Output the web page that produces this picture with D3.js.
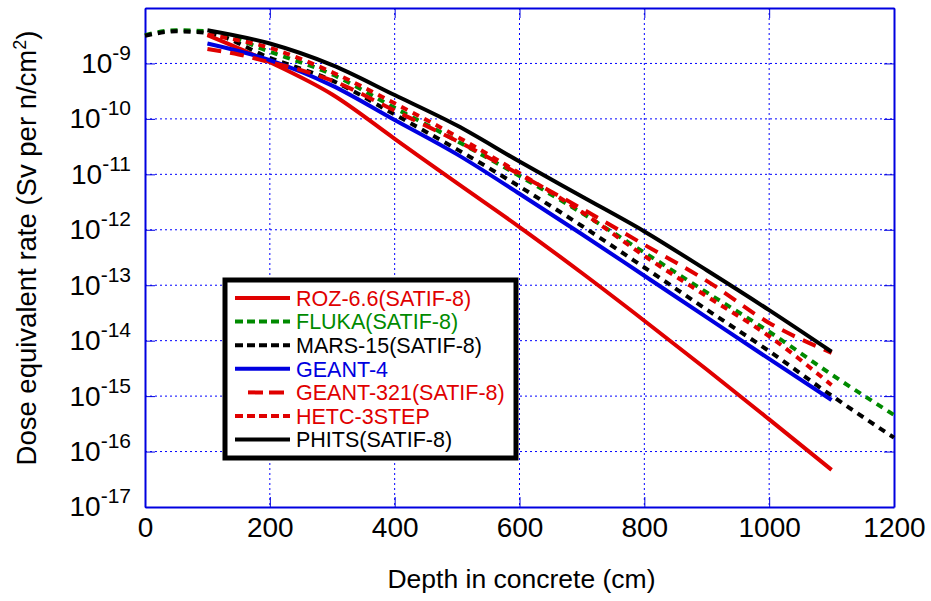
<!DOCTYPE html>
<html>
<head>
<meta charset="utf-8">
<script src="https://cdn.jsdelivr.net/npm/d3@7"></script>
<style>
  html, body { margin: 0; padding: 0; background: #fff; }
  svg { display: block; font-family: "Liberation Sans", Arial, sans-serif; }
</style>
</head>
<body>
<svg id="chart" width="931" height="601"></svg>
<script>
// Depth grids (cm)
const depthFull = [0, 50, 100, 200, 300, 400, 500, 600, 700, 800, 900, 1000, 1100, 1200];
const depthStd = [100, 200, 300, 400, 500, 600, 700, 800, 900, 1000, 1100];
const depthGeant321 = [100, 150, 200, 250, 300, 400, 500, 600, 700, 800, 900, 1000, 1100];

// Dose equivalent rate (Sv per n/cm^2) for each code
const doseROZ = [3.24e-9, 1.05e-9, 2.75e-10, 4.37e-11, 6.92e-12, 1.12e-12, 1.66e-13, 2.29e-14, 3.02e-15, 3.80e-16, 4.68e-17];
const doseFLUKA = [3.24e-9, 3.98e-9, 3.80e-9, 1.62e-9, 6.31e-10, 1.58e-10, 3.98e-11, 9.33e-12, 2.00e-12, 3.89e-13, 7.41e-14, 1.45e-14, 2.45e-15, 4.57e-16];
const doseMARS = [3.16e-9, 3.80e-9, 3.55e-9, 1.26e-9, 4.90e-10, 1.20e-10, 2.82e-11, 6.03e-12, 1.17e-12, 2.09e-13, 3.63e-14, 6.46e-15, 1.02e-15, 1.78e-16];
const doseGEANT4 = [2.29e-9, 1.15e-9, 3.98e-10, 9.55e-11, 2.29e-11, 4.47e-12, 8.32e-13, 1.48e-13, 2.63e-14, 4.68e-15, 8.51e-16];
const doseGEANT321 = [1.82e-9, 1.45e-9, 1.05e-9, 7.59e-10, 4.90e-10, 1.41e-10, 3.98e-11, 1.00e-11, 2.40e-12, 5.37e-13, 1.20e-13, 2.09e-14, 6.03e-15];
const doseHETC = [3.31e-9, 1.91e-9, 6.92e-10, 1.91e-10, 4.79e-11, 1.05e-11, 2.09e-12, 3.39e-13, 6.31e-14, 1.20e-14, 1.58e-15];
const dosePHITS = [3.98e-9, 2.29e-9, 9.33e-10, 2.69e-10, 7.59e-11, 1.70e-11, 3.98e-12, 9.33e-13, 1.86e-13, 3.55e-14, 6.31e-15];

const seriesNames = ["ROZ-6.6(SATIF-8)", "FLUKA(SATIF-8)", "MARS-15(SATIF-8)", "GEANT-4", "GEANT-321(SATIF-8)", "HETC-3STEP", "PHITS(SATIF-8)"];

// Axis ticks
const xTicks = [0, 200, 400, 600, 800, 1000, 1200];
const yExponents = [-17, -16, -15, -14, -13, -12, -11, -10, -9];

// Line styling per series
const RED = "#e00000", GREEN = "#008a00", BLUE = "#0000e0", BLACK = "#000000";
const series = [
  { name: seriesNames[0], x: depthStd, v: doseROZ, color: RED, dash: null, text: RED },
  { name: seriesNames[1], x: depthFull, v: doseFLUKA, color: GREEN, dash: "7,6", text: GREEN },
  { name: seriesNames[2], x: depthFull, v: doseMARS, color: BLACK, dash: "7,6", text: BLACK },
  { name: seriesNames[3], x: depthStd, v: doseGEANT4, color: BLUE, dash: null, text: BLUE },
  { name: seriesNames[4], x: depthGeant321, v: doseGEANT321, color: RED, dash: "14,9", text: RED },
  { name: seriesNames[5], x: depthStd, v: doseHETC, color: RED, dash: "7,6", text: RED },
  { name: seriesNames[6], x: depthStd, v: dosePHITS, color: BLACK, dash: null, text: BLACK }
];

const L = 145, R = 894, T = 8, B = 507;
const x = d3.scaleLinear().domain([0, 1200]).range([L, R]);
const y = d3.scaleLog().domain([1e-17, 1e-8]).range([B, T]);

const svg = d3.select("#chart");
const gridColor = "#0000ff";

// Dotted grid
const grid = svg.append("g");
grid.selectAll("line.vx").data(xTicks.slice(1, -1)).join("line")
  .attr("x1", d => x(d)).attr("x2", d => x(d)).attr("y1", T).attr("y2", B)
  .attr("stroke", gridColor).attr("stroke-width", 1).attr("stroke-dasharray", "2,3");
grid.selectAll("line.hy").data(yExponents.slice(1)).join("line")
  .attr("x1", L).attr("x2", R).attr("y1", d => y(Math.pow(10, d))).attr("y2", d => y(Math.pow(10, d)))
  .attr("stroke", gridColor).attr("stroke-width", 1).attr("stroke-dasharray", "2,3");

// Axes with inward ticks
const tickVals = yExponents.concat([-8]).map(e => Math.pow(10, e));
const xAxis = svg.append("g").attr("transform", `translate(0,${B})`)
  .call(d3.axisBottom(x).tickValues(xTicks).tickSizeInner(-10).tickSizeOuter(0).tickPadding(10).tickFormat(d3.format("d")));
const xTop = svg.append("g").attr("transform", `translate(0,${T})`)
  .call(d3.axisTop(x).tickValues(xTicks).tickSizeInner(-10).tickSizeOuter(0).tickFormat(""));
const yAxis = svg.append("g").attr("transform", `translate(${L},0)`)
  .call(d3.axisLeft(y).tickValues(yExponents.map(e => Math.pow(10, e))).tickSizeInner(-10).tickSizeOuter(0).tickPadding(14).tickFormat(() => ""));
const yRight = svg.append("g").attr("transform", `translate(${R},0)`)
  .call(d3.axisRight(y).tickValues(tickVals).tickSizeInner(-10).tickSizeOuter(0).tickFormat(""));

[xAxis, xTop, yAxis, yRight].forEach(g => {
  g.select(".domain").attr("stroke", BLUE).attr("stroke-width", 2);
  g.selectAll(".tick line").attr("stroke", BLUE).attr("stroke-width", 1);
});

xAxis.selectAll(".tick text").attr("font-size", 28).attr("fill", "#000")
  .attr("font-family", "Liberation Sans, Arial, sans-serif");

// Power-of-ten labels with superscript exponents
yAxis.selectAll(".tick text").each(function(d) {
  const t = d3.select(this).attr("font-size", 28).attr("fill", "#000")
    .attr("font-family", "Liberation Sans, Arial, sans-serif");
  t.text(null);
  t.append("tspan").text("10");
  t.append("tspan").attr("dy", -13).attr("font-size", 21).text(String(Math.round(Math.log10(d))));
});

// Curves
const line = d3.line().x(d => x(d[0])).y(d => y(d[1])).curve(d3.curveMonotoneX);
const plot = svg.append("g");
series.forEach(s => {
  plot.append("path")
    .datum(s.x.map((d, i) => [d, s.v[i]]))
    .attr("d", line)
    .attr("fill", "none")
    .attr("stroke", s.color)
    .attr("stroke-width", 4)
    .attr("stroke-dasharray", s.dash)
    .attr("stroke-linejoin", "round");
});

// Legend
const lg = svg.append("g");
lg.append("rect").attr("x", 225).attr("y", 280).attr("width", 291).attr("height", 178)
  .attr("fill", "#fff").attr("stroke", "#000").attr("stroke-width", 5);
const rowY = i => 298 + i * 23.6;
series.forEach((s, i) => {
  const x0 = s.dash === "14,9" ? 248 : 235;
  lg.append("line").attr("x1", x0).attr("x2", 290).attr("y1", rowY(i)).attr("y2", rowY(i))
    .attr("stroke", s.color).attr("stroke-width", 4)
    .attr("stroke-dasharray", s.dash === "14,9" ? "15,6" : s.dash ? "8,4" : null);
  lg.append("text").attr("x", 296).attr("y", rowY(i)).attr("dy", "0.36em")
    .attr("font-size", 21.5).attr("fill", s.text).text(s.name);
});

// Axis titles
svg.append("text").attr("x", (L + R) / 2 + 2).attr("y", 588).attr("text-anchor", "middle")
  .attr("font-size", 26.5).attr("fill", "#000").text("Depth in concrete (cm)");
const yt = svg.append("text").attr("transform", "translate(36,248) rotate(-90)")
  .attr("text-anchor", "middle").attr("font-size", 27.5).attr("fill", "#000");
yt.append("tspan").text("Dose equivalent rate (Sv per n/cm");
yt.append("tspan").attr("dy", -10).attr("font-size", 18).text("2");
yt.append("tspan").attr("dy", 10).text(")");
</script>
</body>
</html>
